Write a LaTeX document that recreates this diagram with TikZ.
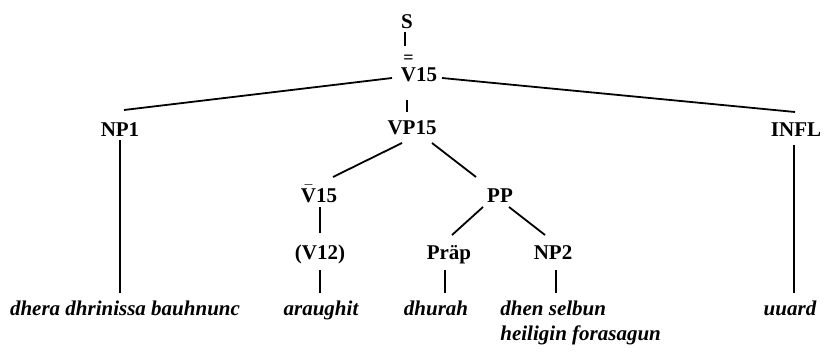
\documentclass[tikz,border=0pt]{standalone}
\usepackage{fontspec}
\setmainfont{Liberation Serif}
\usepackage{amsmath}
\usetikzlibrary{calc}

\begin{document}
\begin{tikzpicture}[x=0.5pt,y=-0.5pt,
	cat/.style={font=\fontsize{10.5}{12.5}\selectfont\bfseries,inner sep=0pt,anchor=base},
	word/.style={font=\fontsize{10.5}{12.5}\selectfont\bfseries\itshape,inner sep=0pt,anchor=base},
	branch/.style={line width=0.9pt},
	]
	\useasboundingbox (0,0) rectangle (824,353);
	\node[cat] (s) at (407,29) {S};
	\node[cat] (v15) at (419,82) {$\overset{\mbox{\fontsize{9}{9}\selectfont=}}{\mbox{V}}$15};
	\node[cat] (np1) at (120,136) {NP1};
	\node[cat] (vp15) at (412,134) {VP15};
	\node[cat] (infl) at (796,136) {INFL};
	\node[cat] (vbar) at (319,202) {$\bar{\mbox{V}}$15};
	\node[cat] (pp) at (500,202) {PP};
	\node[cat] (v12) at (320,259) {(V12)};
	\node[cat] (prap) at (449,259) {Präp};
	\node[cat] (np2) at (553,259) {NP2};
	\node[word] (w1) at (125,315) {dhera dhrinissa bauhnunc};
	\node[word] (w2) at (321,315) {araughit};
	\node[word] (w3) at (436,315) {dhurah};
	\node[word,align=left,anchor=north west] (w4) at (500,301) {dhen selbun\\heiligin forasagun};
	\node[word] (w5) at (790,315) {uuard};
	\draw[branch] ($(s.base)+(-2,3)$) -- ($(v15.base)+(-14,-36)$);
	\draw[branch] ($(v15.base)+(-27,-4)$) -- ($(np1.base)+(4,-26)$);
	\draw[branch] ($(v15.base)+(23,-4)$) -- ($(infl.base)+(-1,-24)$);
	\draw[branch] ($(v15.base)+(-12,18)$) -- ($(vp15.base)+(-5,-22)$);
	\draw[branch] ($(vp15.base)+(-10,9)$) -- ($(vbar.base)+(14,-25)$);
	\draw[branch] ($(vp15.base)+(20,9)$) -- ($(pp.base)+(-24,-25)$);
	\draw[branch] ($(vbar.base)+(1,5)$) -- ($(v12.base)+(0,-26)$);
	\draw[branch] ($(pp.base)+(-17,5)$) -- ($(prap.base)+(3,-24)$);
	\draw[branch] ($(pp.base)+(9,5)$) -- ($(np2.base)+(-8,-24)$);
	\draw[branch] ($(np1.base)+(0,4)$) -- ($(w1.base)+(-5,-22)$);
	\draw[branch] ($(v12.base)+(0,11)$) -- ($(w2.base)+(-1,-22)$);
	\draw[branch] ($(prap.base)+(-4,11)$) -- ($(w3.base)+(9,-22)$);
	\draw[branch] ($(np2.base)+(3,11)$) -- ($(w4.north west)+(56,-8)$);
	\draw[branch] ($(infl.base)+(-2,9)$) -- ($(w5.base)+(4,-22)$);
\end{tikzpicture}
\end{document}
